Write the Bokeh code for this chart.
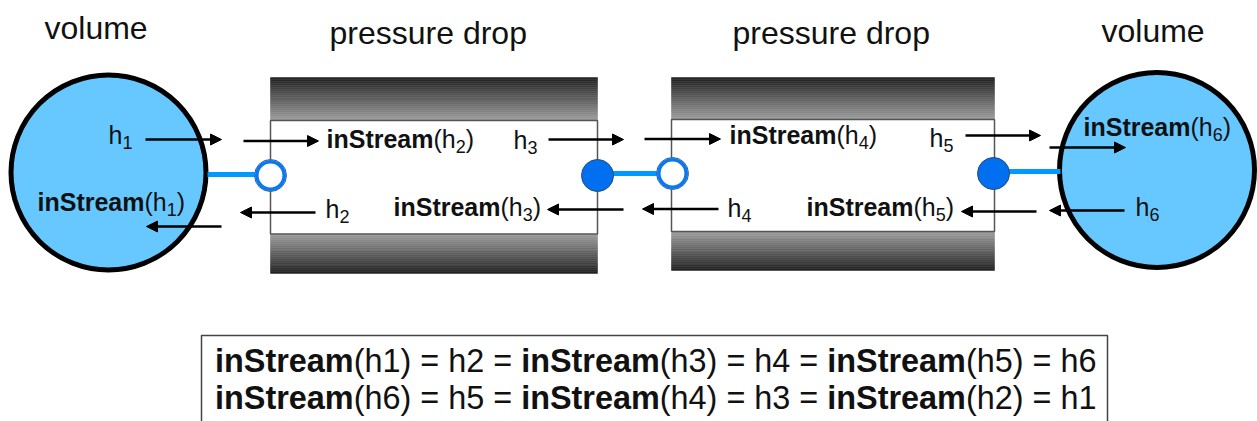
from bokeh.plotting import figure
from bokeh.models import Range1d, Arrow, NormalHead, ColumnDataSource
from bokeh.core.properties import value
from bokeh.embed import file_html
from bokeh.resources import INLINE

FONT = "Liberation Sans"
# --- diagram contents -------------------------------------------------
VOL_X = [108, 1156.5]
VOL_Y = [172, 169.5]
VOL_R = [97.5, 97.5]
PIPE_L = [270, 671]
PIPE_R = [597, 994]
PIPE_TOP = [77, 77]
PIPE_IN_TOP = [120, 119]
PIPE_IN_BOT = [233.5, 231]
PIPE_BOT = [273, 270]
GRAYS = [0x22, 0x28, 0x2e, 0x34, 0x3a, 0x40, 0x46, 0x4c, 0x52, 0x58, 0x5e,
         0x64, 0x6a, 0x70, 0x76, 0x7c, 0x82, 0x88, 0x8e, 0x94, 0x99]
LINK_X0 = [207, 597, 1008]
LINK_X1 = [270, 672, 1060]
LINK_Y = [174, 173, 171]
OPEN_X = [270, 672]
OPEN_Y = [175, 173]
SOLID_X = [597, 993]
SOLID_Y = [175, 173]
AX0 = [145, 243, 315, 221, 548, 644, 623, 718, 965, 1049, 1036, 1124]
AX1 = [221, 318, 240, 146, 623, 720, 547, 642, 1040, 1125, 961, 1049]
AY = [139, 140.5, 212, 226, 139, 138.5, 209, 208.5, 135, 147, 211, 210]
TITLES = ["volume", "pressure drop", "pressure drop", "volume"]
TITLE_X = [44, 329, 732, 1101]
TITLE_Y = [36, 41, 41, 39]
IS_N = ["1", "2", "3", "4", "5", "6"]
IS_X = [37, 326, 393, 729, 806, 1083]
IS_Y = [208, 145, 213, 141, 213, 133]
H_N = ["1", "2", "3", "4", "5", "6"]
H_X = [108, 325, 513, 727, 929, 1135]
H_Y = [141, 215, 146, 214, 144, 213]
EQ_LINES = [["1", "2", "3", "4", "5", "6"], ["6", "5", "4", "3", "2", "1"]]
EQ_X = 214.5
EQ_Y = [369, 406]
BOX = (201, 1107, 335)

W = {"i": .278, "n": .611, "S": .667, "t": .333, "r": .389, "e": .556, "a": .556, "m": .889}
def bold_w(s): return sum(W[c] for c in s)
REG = {"(": .333, ")": .333, "h": .556, " ": .278, "=": .584}
def reg_w(s): return sum(REG.get(c, .556) for c in s)

p = figure(width=1257, height=421, x_range=Range1d(0, 1257), y_range=Range1d(421, 0),
           output_backend="svg", toolbar_location=None, min_border=0)
p.axis.visible = False
p.grid.visible = False
p.outline_line_color = None
p.background_fill_color = "white"
p.border_fill_color = "white"

# pipes with banded shading
for l, r, t, it, ib, b in zip(PIPE_L, PIPE_R, PIPE_TOP, PIPE_IN_TOP, PIPE_IN_BOT, PIPE_BOT):
    n = len(GRAYS)
    top = [round(t + (it - t) * k / n) for k in range(n + 1)]
    bot = [round(b + (ib - b) * k / n) for k in range(n + 1)]
    cols = ["#%02x%02x%02x" % (g, g, g) for g in GRAYS]
    p.quad(left=l, right=r, top=top[:-1], bottom=top[1:], fill_color=cols, line_color=cols, line_width=0.5)
    p.quad(left=l, right=r, top=bot[:-1], bottom=bot[1:], fill_color=cols, line_color=cols, line_width=0.5)
    p.quad(left=[l], right=[r], top=[it], bottom=[ib], fill_color="white",
           line_color="#555555", line_width=1.5)

# volumes
p.circle(VOL_X, VOL_Y, radius=VOL_R, fill_color="#66c8ff", line_color="black", line_width=5)

# connectors
p.segment(LINK_X0, LINK_Y, LINK_X1, LINK_Y, line_color="#0099ff", line_width=5)

# ports
p.circle(OPEN_X, OPEN_Y, radius=16, fill_color="white", line_color="#2a5a90", line_width=1)
p.circle(OPEN_X, OPEN_Y, radius=13.7, fill_color="white", line_color="#0a78f0", line_width=3.6)
p.circle(SOLID_X, SOLID_Y, radius=16, fill_color="#0070f0", line_color="#2a4a70", line_width=1)

# arrows
src = ColumnDataSource(dict(x0=AX0, x1=AX1, y=AY))
p.add_layout(Arrow(end=NormalHead(size=11, fill_color="black", line_color="black", line_width=1),
                   x_start="x0", y_start="y", x_end="x1", y_end="y", source=src,
                   line_color="black", line_width=2.5))

# text pieces
BASE_SHIFT = 0.26  # of the font size: the page draws text this far below the given baseline
txt = {"reg": dict(x=[], y=[], t=[], s=[]), "bold": dict(x=[], y=[], t=[], s=[])}
def add(kind, x, y, t, size):
    d = txt[kind]
    d["x"].append(x); d["y"].append(y - BASE_SHIFT * size); d["t"].append(t); d["s"].append(f"{size}px")

for t, x, y in zip(TITLES, TITLE_X, TITLE_Y):
    add("reg", x, y, t, 32)

SZ, SUB = 25, 18
for n, x, y in zip(H_N, H_X, H_Y):
    add("reg", x, y, "h", SZ)
    add("reg", x + reg_w("h") * SZ, y + 6, n, SUB)
for n, x, y in zip(IS_N, IS_X, IS_Y):
    add("bold", x, y, "inStream", SZ)
    xx = x + bold_w("inStream") * SZ
    add("reg", xx, y, "(h", SZ)
    xx += reg_w("(h") * SZ
    add("reg", xx, y + 6, n, SUB)
    xx += .556 * SUB
    add("reg", xx, y, ")", SZ)

EQ = 32.4
for line, y in zip(EQ_LINES, EQ_Y):
    xx = EQ_X
    for k, n in enumerate(line):
        if k % 2 == 0:
            add("bold", xx, y, "inStream", EQ)
            xx += bold_w("inStream") * EQ
            s = f"(h{n})"
        else:
            s = f"h{n}"
        if k < 5:
            s += " = "
        add("reg", xx, y, s, EQ)
        xx += reg_w(s) * EQ

for kind, style in (("reg", "normal"), ("bold", "bold")):
    d = txt[kind]
    p.text(x=d["x"], y=d["y"], text=d["t"], text_font_size=d["s"], text_font=value(FONT),
           text_font_style=style, text_color="#111111", text_baseline="alphabetic", text_align="left")

# equation box, open at the bottom
l, r, t = BOX
p.line([l, l, r, r], [421, t, t, 421], line_color="#444444", line_width=1.5)

open("out.html", "w").write(file_html(p, INLINE))
